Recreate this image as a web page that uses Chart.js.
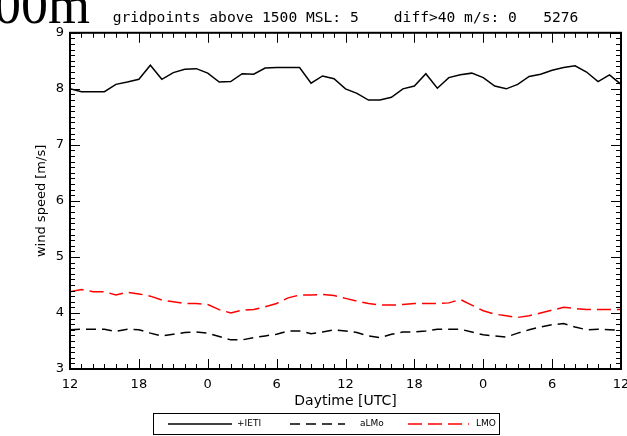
<!DOCTYPE html>
<html lang="en">
<head>
<meta charset="UTF-8">
<title>Wind speed</title>
<script src="https://cdn.jsdelivr.net/npm/chart.js@4.4.1/dist/chart.umd.min.js"></script>
<style>
    html, body { margin: 0; padding: 0; background: #fff; }
</style>
</head>
<body>
<canvas id="wind" width="627" height="436"></canvas>
<script>
// hours after 12 UTC of the first day
const hours = [0, 1, 2, 3, 4, 5, 6, 7, 8, 9, 10, 11, 12, 13, 14, 15, 16, 17, 18, 19, 20, 21, 22, 23, 24,
               25, 26, 27, 28, 29, 30, 31, 32, 33, 34, 35, 36, 37, 38, 39, 40, 41, 42, 43, 44, 45, 46, 47, 48];
const xTickLabels = ['12', '18', '0', '6', '12', '18', '0', '6', '12'];
const yTicks = [3, 4, 5, 6, 7, 8, 9];
const seriesNames = ['+IETI', 'aLMo', 'LMO'];

const obsSolid = [8.00, 7.95, 7.95, 7.95, 8.08, 8.12, 8.17, 8.42, 8.17, 8.29, 8.35, 8.36, 8.28, 8.12, 8.13, 8.27, 8.26,
                  8.37, 8.38, 8.38, 8.38, 8.10, 8.23, 8.18, 8.00, 7.92, 7.80, 7.80, 7.85, 8.00, 8.05, 8.27, 8.01,
                  8.20, 8.25, 8.28, 8.20, 8.05, 8.00, 8.08, 8.22, 8.26, 8.33, 8.38, 8.41, 8.30, 8.13, 8.25, 8.08];
const almoDashed = [3.70, 3.71, 3.71, 3.71, 3.67, 3.71, 3.70, 3.64, 3.59, 3.62, 3.65, 3.66, 3.64, 3.58, 3.52, 3.52, 3.56,
                    3.59, 3.62, 3.68, 3.68, 3.63, 3.66, 3.70, 3.68, 3.65, 3.59, 3.56, 3.62, 3.66, 3.66, 3.68, 3.71,
                    3.71, 3.71, 3.66, 3.61, 3.59, 3.57, 3.64, 3.70, 3.75, 3.79, 3.81, 3.75, 3.70, 3.71, 3.70, 3.69];
const lmoRed = [4.38, 4.42, 4.38, 4.38, 4.32, 4.37, 4.34, 4.30, 4.23, 4.20, 4.17, 4.17, 4.15, 4.06, 4.00, 4.05, 4.06,
                4.11, 4.17, 4.27, 4.32, 4.32, 4.33, 4.31, 4.26, 4.21, 4.17, 4.14, 4.14, 4.15, 4.17, 4.17, 4.17,
                4.18, 4.24, 4.14, 4.04, 3.98, 3.95, 3.92, 3.95, 4.00, 4.05, 4.10, 4.08, 4.06, 4.06, 4.06, 4.06];

const pts = arr => arr.map((v, i) => ({x: hours[i], y: v}));

// inward ticks on all four sides, frame, legend box and the clipped height label
const framePlugin = {
    id: 'frame',
    afterDraw(chart) {
        const {ctx, chartArea: a, scales: {x, y}} = chart;
        ctx.save();
        ctx.strokeStyle = '#000';
        ctx.lineWidth = 1;
        ctx.beginPath();
        for (let h = x.min; h <= x.max; h++) {
            const px = Math.round(x.getPixelForValue(h)) + 0.5;
            const len = h % 6 === 0 ? 10 : 5;
            ctx.moveTo(px, a.bottom); ctx.lineTo(px, a.bottom - len);
            ctx.moveTo(px, a.top); ctx.lineTo(px, a.top + len);
        }
        for (let i = y.min * 10; i <= y.max * 10; i++) {
            const py = Math.round(y.getPixelForValue(i / 10)) + 0.5;
            const len = i % 10 === 0 ? 10 : 5;
            ctx.moveTo(a.left, py); ctx.lineTo(a.left + len, py);
            ctx.moveTo(a.right, py); ctx.lineTo(a.right - len, py);
        }
        ctx.stroke();
        ctx.lineWidth = 2;
        ctx.strokeRect(a.left, a.top, a.right - a.left, a.bottom - a.top);

        // legend
        ctx.lineWidth = 1;
        ctx.strokeRect(153.5, 413.5, 346, 21);
        const items = [[168, 232, 237], [290, 345, 360], [408, 469, 476]];
        ctx.font = '9px "DejaVu Sans"';
        ctx.textBaseline = 'middle';
        chart.data.datasets.forEach((ds, i) => {
            const [x0, x1, tx] = items[i];
            ctx.beginPath();
            ctx.strokeStyle = ds.borderColor;
            ctx.lineWidth = ds.borderWidth;
            ctx.setLineDash(ds.borderDash || []);
            ctx.moveTo(x0, 424); ctx.lineTo(x1, 424);
            ctx.stroke();
            ctx.setLineDash([]);
            ctx.fillStyle = '#000';
            ctx.fillText(ds.label, tx, 424);
        });

        // big label partly outside the picture, top left
        ctx.font = '54px "Liberation Serif"';
        ctx.textAlign = 'right';
        ctx.textBaseline = 'alphabetic';
        ctx.fillStyle = '#000';
        ctx.fillText('1500m', 90, 23);
        ctx.restore();
    }
};

const ctx = document.getElementById('wind').getContext('2d');
const windChart = new Chart(ctx, {
    type: 'line',
    data: {
        datasets: [
            {label: seriesNames[0], data: pts(obsSolid), borderColor: '#000', borderWidth: 1.5},
            {label: seriesNames[1], data: pts(almoDashed), borderColor: '#000', borderWidth: 1.5, borderDash: [10, 6]},
            {label: seriesNames[2], data: pts(lmoRed), borderColor: '#ff0000', borderWidth: 1.5, borderDash: [14, 6]}
        ]
    },
    options: {
        responsive: false,
        animation: false,
        devicePixelRatio: 1,
        layout: {padding: {left: 0, right: 6, top: 0, bottom: 0}},
        elements: {point: {radius: 0}, line: {tension: 0}},
        plugins: {
            legend: {display: false},
            tooltip: {enabled: false},
            title: {
                display: true,
                fullSize: false,
                text: 'gridpoints above 1500 MSL: 5    diff>40 m/s: 0   5276',
                color: '#000',
                font: {family: '"DejaVu Sans Mono"', size: 14.6, weight: 'normal', lineHeight: 1.15},
                padding: {top: 10, bottom: 6}
            }
        },
        scales: {
            x: {
                type: 'linear',
                min: hours[0],
                max: hours[hours.length - 1],
                grid: {display: false, drawTicks: false},
                border: {display: false},
                ticks: {
                    stepSize: 6,
                    autoSkip: false,
                    maxRotation: 0,
                    padding: 8,
                    color: '#000',
                    font: {family: '"DejaVu Sans"', size: 13},
                    callback: (v) => xTickLabels[v / 6]
                },
                title: {
                    display: true,
                    text: 'Daytime [UTC]',
                    color: '#000',
                    font: {family: '"DejaVu Sans"', size: 14, lineHeight: 1.2},
                    padding: {top: 0, bottom: 26}
                },
                afterFit(scale) {
                    scale.height = 67;
                    scale.paddingLeft = 0;
                    scale.paddingRight = 0;
                }
            },
            y: {
                min: yTicks[0],
                max: yTicks[yTicks.length - 1],
                grid: {display: false, drawTicks: false},
                border: {display: false},
                ticks: {
                    stepSize: 1,
                    padding: 6,
                    color: '#000',
                    font: {family: '"DejaVu Sans"', size: 13}
                },
                title: {
                    display: true,
                    text: 'wind speed [m/s]',
                    color: '#000',
                    font: {family: '"DejaVu Sans"', size: 13, lineHeight: 1.2},
                    padding: {top: 34, bottom: 0}
                },
                afterFit(scale) {
                    scale.width = 70;
                }
            }
        }
    },
    plugins: [framePlugin]
});
</script>
</body>
</html>
